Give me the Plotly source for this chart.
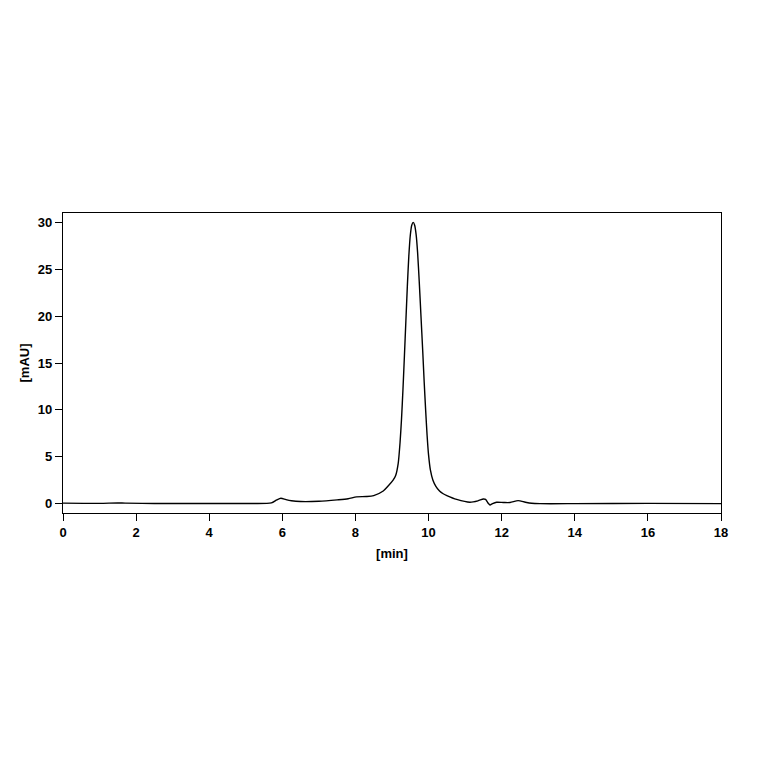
import plotly.graph_objects as go

# --- chromatogram ---
temps_min = [0.0, 1.0, 1.5, 1.7, 2.5, 5.0, 5.7, 5.85, 5.96, 6.1, 6.25, 6.5, 7.0, 7.5,
             7.8, 8.03, 8.3, 8.5, 8.76, 8.9, 9.03, 9.10, 9.17, 9.22, 9.26, 9.30, 9.34,
             9.38, 9.42, 9.46, 9.50, 9.54, 9.58, 9.62, 9.66, 9.70, 9.745, 9.79, 9.84,
             9.88, 9.92, 9.96, 10.00, 10.05, 10.12, 10.20, 10.30, 10.40, 10.5, 10.77,
             11.13, 11.35, 11.5, 11.56, 11.62, 11.68, 11.75, 11.86, 12.05, 12.23, 12.45,
             12.65, 12.82, 13.05, 14.0, 16.0, 18.0]
signal_mau = [0.05, 0.03, 0.07, 0.05, 0.02, 0.02, 0.08, 0.4, 0.57, 0.42, 0.3, 0.22, 0.25, 0.4,
              0.52, 0.72, 0.76, 0.86, 1.35, 1.9, 2.5, 3.0, 4.3, 6.5, 9.0, 12.2, 15.8,
              19.5, 23.2, 26.4, 28.6, 29.7, 30.0, 29.7, 28.7, 26.8, 23.7, 20.2, 16.3,
              13.0, 10.0, 7.3, 5.2, 3.6, 2.5, 1.85, 1.35, 1.05, 0.86, 0.45,
              0.15, 0.3, 0.5, 0.45, 0.1, -0.14, 0.0, 0.14, 0.12, 0.12, 0.32,
              0.15, 0.04, 0.0, 0.0, 0.03, 0.0]

x_ticks = [0, 2, 4, 6, 8, 10, 12, 14, 16, 18]
y_ticks = [0, 5, 10, 15, 20, 25, 30]

fig = go.Figure()
fig.add_trace(go.Scatter(
    x=temps_min, y=signal_mau, mode="lines",
    line=dict(color="black", width=1.4, shape="spline", smoothing=0.7),
    showlegend=False,
))

axe_commun = dict(
    showline=True, linecolor="black", linewidth=1.3, mirror=True,
    ticks="outside", ticklen=7, tickwidth=1.3, tickcolor="black",
    showgrid=False, zeroline=False,
    tickfont=dict(family="Liberation Sans", size=13, color="black", weight="bold"),
)

fig.update_layout(
    width=764, height=764,
    plot_bgcolor="white", paper_bgcolor="white",
    # la page ajoute ~8 px de marge au corps : on compense
    margin=dict(l=55, r=51, t=205, b=259),
    xaxis=dict(range=[0, 18], tickvals=x_ticks,
               title=dict(text="<b>[min]</b>", standoff=10,
                          font=dict(family="Liberation Sans", size=13, color="black")),
               **axe_commun),
    yaxis=dict(range=[-1, 31], tickvals=y_ticks,
               title=dict(text="<b>[mAU]</b>", standoff=5,
                          font=dict(family="Liberation Sans", size=13, color="black")),
               **axe_commun),
)

fig.write_html("out.html")
